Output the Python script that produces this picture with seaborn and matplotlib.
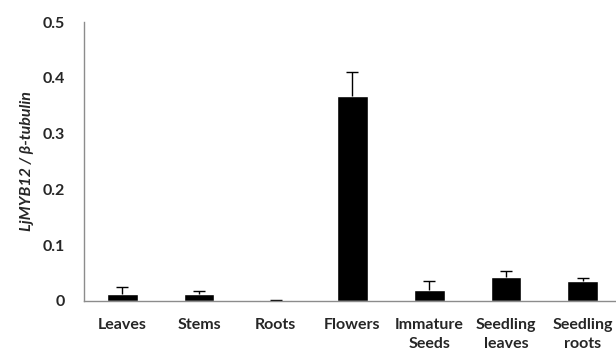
import matplotlib
matplotlib.use("Agg")
import matplotlib.pyplot as plt
import seaborn as sns
import numpy as np
import pandas as pd

# values
tissues = ["Leaves", "Stems", "Roots", "Flowers", "Immature\nSeeds",
           "Seedling\nleaves", "Seedling\nroots"]
expression = [0.0125, 0.0125, 0.001, 0.367, 0.0195, 0.043, 0.035]
error_up = [0.013, 0.006, 0.0005, 0.044, 0.016, 0.010, 0.007]

sns.set_style("white")
plt.rcParams["font.family"] = ["Lato", "DejaVu Sans"]

df = pd.DataFrame({"tissue": tissues, "value": expression})

fig = plt.figure(figsize=(6.16, 3.5), dpi=100)
ax = fig.add_axes([84 / 616, 49 / 350, 537 / 616, 279 / 350])

sns.barplot(data=df, x="tissue", y="value", color="black", width=0.4,
            saturation=1, ax=ax)
eb = ax.errorbar(np.arange(len(tissues)), expression,
                 yerr=[np.zeros(len(tissues)), error_up],
                 fmt="none", ecolor="black", elinewidth=1, capsize=4,
                 capthick=1)
# only the upper cap is drawn in the original
eb[1][0].set_visible(False)

ax.set_xlim(-0.5, 6.5)
ax.set_ylim(0, 0.5)
ax.set_yticks([0, 0.1, 0.2, 0.3, 0.4, 0.5])
ax.set_yticklabels(["0", "0.1", "0.2", "0.3", "0.4", "0.5"],
                   fontsize=11.5, fontweight="bold")

# category labels on minor ticks, boundary tick marks on major
ax.set_xticks(np.arange(-0.5, 7.0, 1.0))
ax.set_xticklabels([])
ax.set_xticks(np.arange(len(tissues)), minor=True)
ax.set_xticklabels(tissues, minor=True, fontsize=11.5, fontweight="bold",
                   linespacing=1.45)
ax.tick_params(axis="x", which="minor", length=0, pad=12)
ax.tick_params(axis="x", which="major", direction="out", length=5,
               color="#8c8c8c", width=1)
ax.tick_params(axis="y", direction="out", length=4, color="#8c8c8c",
               width=1, pad=10)

ax.set_xlabel("")
ax.set_ylabel("LjMYB12 / β-tubulin", fontsize=11.5,
              fontstyle="italic", fontweight="bold", labelpad=6)

for side in ["top", "right"]:
    ax.spines[side].set_visible(False)
for side in ["left", "bottom"]:
    ax.spines[side].set_color("#8c8c8c")
    ax.spines[side].set_linewidth(1)

fig.savefig("out.png", dpi=100)
